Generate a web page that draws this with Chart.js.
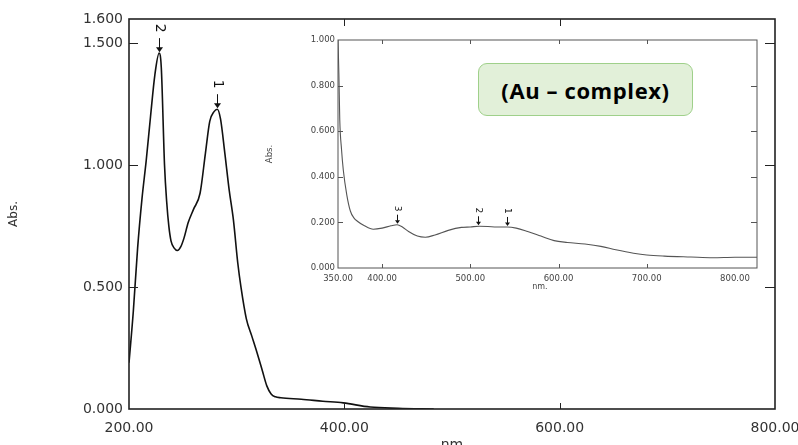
<!DOCTYPE html>
<html>

<head>
  <meta charset="UTF-8" />
  <meta name="viewport" content="width=device-width" />
  <title>Au complex UV-Vis spectrum</title>
  <script src="https://cdn.jsdelivr.net/npm/chart.js@4.4.1/dist/chart.umd.min.js"></script>
  <style>
    body { margin: 0; background: #fff; }
    #wrap { position: relative; width: 798px; height: 445px; overflow: hidden; }
    #main { position: absolute; left: 0; top: 0; }
    #inset { position: absolute; left: 258px; top: 28px; }
    #tag {
      position: absolute; left: 478px; top: 63px; width: 213px; height: 51px;
      background: #e2f0d9; border: 1.5px solid #9fd08a; border-radius: 9px;
      font: bold 22px "Open Sans", sans-serif; letter-spacing: 0.6px; color: #000;
      display: flex; align-items: center; justify-content: center;
    }
  </style>
</head>

<body>
  <div id="wrap">
    <canvas id="main" width="798" height="445"></canvas>
    <canvas id="inset" width="502" height="270"></canvas>
    <div id="tag">(Au – complex)</div>
  </div>
  <script>
    // main spectrum (200-480 nm)
    const mainNm = [200, 204, 208, 212, 216, 220, 224, 228, 230, 233, 235, 237, 239, 242, 245, 248, 251, 255, 260, 266, 271, 275, 279, 282, 285, 289, 293, 297, 301, 304, 309, 314, 319, 324, 328, 332, 336, 341, 360, 380, 399, 424, 450, 483];
    const mainAbs = [0.19, 0.40, 0.66, 0.86, 1.02, 1.20, 1.37, 1.46, 1.40, 1.00, 0.85, 0.75, 0.69, 0.66, 0.65, 0.665, 0.70, 0.765, 0.82, 0.885, 1.05, 1.18, 1.22, 1.23, 1.19, 1.05, 0.90, 0.775, 0.60, 0.50, 0.37, 0.30, 0.23, 0.155, 0.095, 0.062, 0.05, 0.046, 0.04, 0.032, 0.025, 0.008, 0.003, 0.0];
    const mainYTicks = [0, 0.5, 1.0, 1.5, 1.6];
    const mainXTicks = [200, 400, 600, 800];
    const mainPeakNm = [282, 228];
    const mainPeakAbs = [1.23, 1.46];
    const mainPeakLabels = ['1', '2'];

    // inset spectrum (350-825 nm)
    const insetNm = [350, 351, 352, 354, 356, 360, 364, 368, 372, 380, 390, 400, 410, 417, 423, 430, 440, 449, 460, 475, 490, 500, 510, 520, 530, 542, 552, 565, 580, 595, 610, 630, 648, 665, 685, 700, 720, 750, 775, 800, 825];
    const insetAbs = [1.0, 0.85, 0.65, 0.52, 0.43, 0.32, 0.25, 0.22, 0.205, 0.185, 0.17, 0.175, 0.185, 0.19, 0.18, 0.16, 0.14, 0.135, 0.145, 0.165, 0.178, 0.18, 0.183, 0.182, 0.18, 0.18, 0.175, 0.16, 0.14, 0.12, 0.112, 0.105, 0.095, 0.08, 0.065, 0.057, 0.052, 0.048, 0.045, 0.047, 0.047];
    const insetYTicks = [0, 0.2, 0.4, 0.6, 0.8, 1.0];
    const insetXTicks = [350, 400, 500, 600, 700, 800];
    const insetPeakNm = [542, 509, 417];
    const insetPeakAbs = [0.18, 0.183, 0.19];
    const insetPeakLabels = ['1', '2', '3'];

    Chart.defaults.font.family = '"DejaVu Sans", sans-serif';

    // frame with inward ticks, plus the peak arrows
    const spectrumDeco = {
      id: 'spectrumDeco',
      afterDatasetsDraw(chart, args, o) {
        const ctx = chart.ctx;
        const a = chart.chartArea;
        const xs = chart.scales.x, ys = chart.scales.y;
        ctx.save();
        ctx.strokeStyle = o.color;
        ctx.lineWidth = o.width;
        ctx.strokeRect(a.left, a.top, a.right - a.left, a.bottom - a.top);
        ctx.lineWidth = 1;
        ctx.beginPath();
        o.yTicks.forEach(v => {
          const y = Math.round(ys.getPixelForValue(v)) + 0.5;
          ctx.moveTo(a.left, y); ctx.lineTo(a.left + o.len.left, y);
          ctx.moveTo(a.right, y); ctx.lineTo(a.right - o.len.right, y);
        });
        o.xTicks.forEach(v => {
          const x = Math.round(xs.getPixelForValue(v)) + 0.5;
          ctx.moveTo(x, a.top); ctx.lineTo(x, a.top + o.len.top);
          ctx.moveTo(x, a.bottom); ctx.lineTo(x, a.bottom - o.len.bottom);
        });
        ctx.stroke();

        // arrows
        const p = o.peaks;
        ctx.strokeStyle = '#111';
        ctx.fillStyle = '#111';
        ctx.font = p.font;
        ctx.textAlign = 'center';
        ctx.textBaseline = 'middle';
        p.nm.forEach((nm, i) => {
          const x = Math.round(xs.getPixelForValue(nm)) + 0.5;
          const y = ys.getPixelForValue(p.abs[i]) - 1;
          ctx.lineWidth = 1;
          ctx.beginPath();
          ctx.moveTo(x, y - p.len); ctx.lineTo(x, y - 3);
          ctx.stroke();
          ctx.beginPath();
          ctx.moveTo(x, y); ctx.lineTo(x - p.head, y - p.head * 1.4); ctx.lineTo(x + p.head, y - p.head * 1.4);
          ctx.closePath(); ctx.fill();
          ctx.save();
          ctx.translate(x, y - p.len - p.gap);
          ctx.rotate(Math.PI / 2);
          ctx.fillText(p.labels[i], 0, 0);
          ctx.restore();
        });
        ctx.restore();
      }
    };

    function points(xs, ys) {
      return xs.map((x, i) => ({ x: x, y: ys[i] }));
    }

    new Chart(document.getElementById('main').getContext('2d'), {
      type: 'line',
      data: {
        datasets: [{
          data: points(mainNm, mainAbs),
          borderColor: '#111',
          borderWidth: 1.6,
          pointRadius: 0,
          cubicInterpolationMode: 'monotone'
        }]
      },
      plugins: [spectrumDeco],
      options: {
        responsive: false,
        animation: false,
        devicePixelRatio: 1,
        layout: { padding: { left: 0, right: 23, top: 19, bottom: 0 } },
        plugins: {
          legend: { display: false },
          tooltip: { enabled: false },
          spectrumDeco: {
            color: '#222', width: 1.6,
            yTicks: [0.5, 1.0, 1.5], xTicks: [400, 600],
            len: { left: 9, right: 10, top: 7, bottom: 6 },
            peaks: { nm: mainPeakNm, abs: mainPeakAbs, labels: mainPeakLabels, font: '14px "DejaVu Sans"', len: 14, gap: 10, head: 3.5 }
          }
        },
        scales: {
          x: {
            type: 'linear', min: 200, max: 800,
            grid: { display: false, drawTicks: false },
            border: { display: false },
            afterBuildTicks: s => { s.ticks = mainXTicks.map(v => ({ value: v })); },
            afterFit: s => { s.height = 36; s.paddingLeft = 0; s.paddingRight = 0; },
            ticks: { autoSkip: false, maxRotation: 0, padding: 11, color: '#333', font: { size: 14 }, callback: v => v.toFixed(2) },
            title: { display: true, text: 'nm', color: '#333', font: { size: 14 }, padding: { top: 0, bottom: -9 } }
          },
          y: {
            min: 0, max: 1.6,
            grid: { display: false, drawTicks: false },
            border: { display: false },
            afterBuildTicks: s => { s.ticks = mainYTicks.map(v => ({ value: v })); },
            afterFit: s => { s.width = 129; },
            ticks: { padding: 6, color: '#333', font: { size: 14 }, callback: v => v.toFixed(3) },
            title: { display: true, text: 'Abs.', color: '#333', font: { size: 12 }, padding: { top: 7, bottom: 0 } }
          }
        }
      }
    });

    new Chart(document.getElementById('inset').getContext('2d'), {
      type: 'line',
      data: {
        datasets: [{
          data: points(insetNm, insetAbs),
          borderColor: '#555',
          borderWidth: 1.1,
          pointRadius: 0,
          cubicInterpolationMode: 'monotone'
        }]
      },
      plugins: [spectrumDeco],
      options: {
        responsive: false,
        animation: false,
        devicePixelRatio: 1,
        layout: { padding: { left: 0, right: 3, top: 12, bottom: 0 } },
        plugins: {
          legend: { display: false },
          tooltip: { enabled: false },
          spectrumDeco: {
            color: '#555', width: 1,
            yTicks: [0.2, 0.4, 0.6, 0.8], xTicks: [400, 500, 600, 700],
            len: { left: 5, right: 6, top: 4, bottom: 4 },
            peaks: { nm: insetPeakNm, abs: insetPeakAbs, labels: insetPeakLabels, font: '9px "DejaVu Sans"', len: 9, gap: 6, head: 2.5 }
          }
        },
        scales: {
          x: {
            type: 'linear', min: 350, max: 825,
            grid: { display: false, drawTicks: false },
            border: { display: false },
            afterBuildTicks: s => { s.ticks = insetXTicks.map(v => ({ value: v })); },
            afterFit: s => { s.height = 30; s.paddingLeft = 0; s.paddingRight = 0; },
            ticks: { autoSkip: false, maxRotation: 0, padding: 6, color: '#444', font: { size: 8.5 }, callback: v => v.toFixed(2) },
            title: { display: true, text: 'nm.      ', color: '#444', font: { size: 8 }, padding: { top: 0, bottom: 6 } }
          },
          y: {
            min: 0, max: 1.0,
            grid: { display: false, drawTicks: false },
            border: { display: false },
            afterBuildTicks: s => { s.ticks = insetYTicks.map(v => ({ value: v })); },
            afterFit: s => { s.width = 80; },
            ticks: { padding: 3, color: '#444', font: { size: 8.5 }, callback: v => v.toFixed(3) },
            title: { display: true, text: 'Abs.', color: '#444', font: { size: 8.5 }, padding: { top: 7, bottom: 0 } }
          }
        }
      }
    });
  </script>
</body>

</html>
